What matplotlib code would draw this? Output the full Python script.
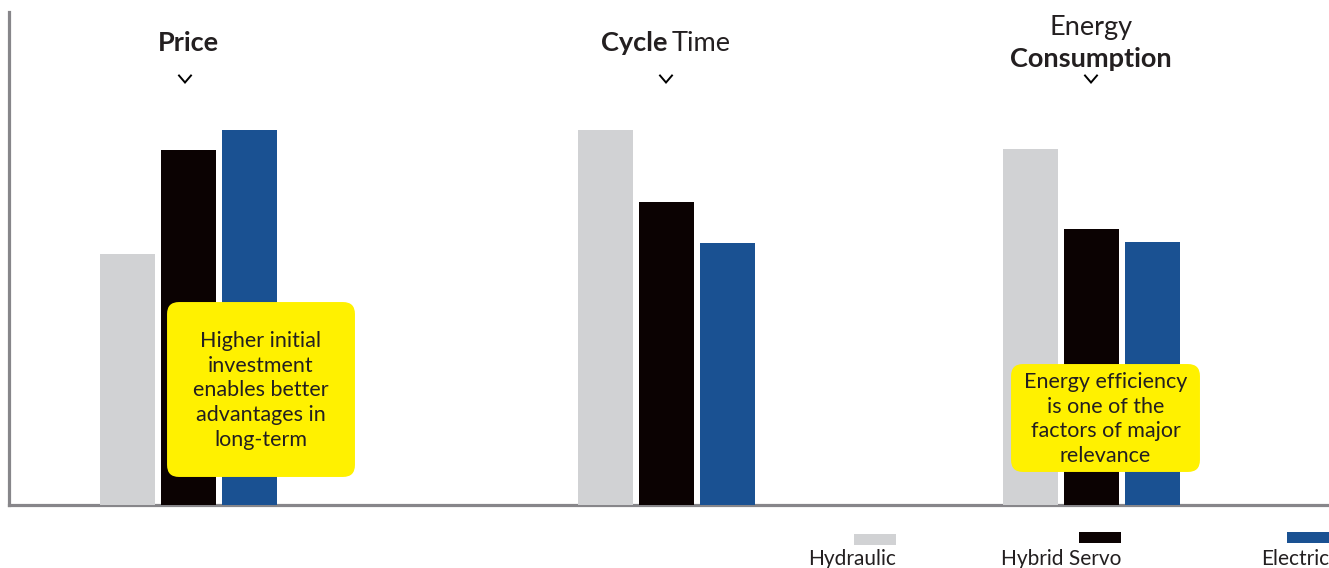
import matplotlib.pyplot as plt
from matplotlib.patches import FancyBboxPatch, Rectangle
from matplotlib.lines import Line2D

plt.rcParams['font.family'] = ['Lato', 'DejaVu Sans']

# data (relative score, tallest bar = 100)
categories = ['Price', 'Cycle Time', 'Energy Consumption']
series = ['Hydraulic', 'Hybrid Servo', 'Electric']
hydraulic = [67, 100, 95]
hybrid_servo = [94.7, 80.8, 73.6]
electric = [100, 69.9, 70.1]
notes = ['Higher initial\ninvestment\nenables better\nadvantages in\nlong-term',
         'Energy efficiency\nis one of the\nfactors of major\nrelevance']

colors = ['#D1D2D4', '#0B0202', '#1A5192']
text_col = '#231F20'
W, H = 1329, 568

fig = plt.figure(figsize=(W / 100, H / 100), dpi=100)
ax = fig.add_axes([9 / W, 63 / H, 1320 / W, 493 / H])


def fx(x):
    return x / W


def fy(y):
    return 1 - y / H


# bar layout (pixel-like x units)
group_x = [188.5, 666, 1091]
step, width = 61, 55
for i, vals in enumerate([hydraulic, hybrid_servo, electric]):
    xs = [g + (i - 1) * step for g in group_x]
    ax.bar(xs, vals, width=width, color=colors[i], zorder=1, clip_on=False)

ax.set_xlim(9, 1329)
ax.set_ylim(0, 131.5)
ax.set_xticks([])
ax.set_yticks([])
for s in ['top', 'right']:
    ax.spines[s].set_visible(False)
for s in ['left', 'bottom']:
    ax.spines[s].set_color('#87868A')
    ax.spines[s].set_linewidth(2.3)
    ax.spines[s].set_zorder(0)

# category headings
fs_head = 19.5
fig.text(fx(188), fy(51), 'Price', ha='center', va='baseline',
         fontsize=fs_head, fontweight='bold', color=text_col)
fig.text(fx(667), fy(51), 'Cycle', ha='right', va='baseline',
         fontsize=fs_head, fontweight='bold', color=text_col)
fig.text(fx(672), fy(51), 'Time', ha='left', va='baseline',
         fontsize=fs_head, color=text_col)
fig.text(fx(1091), fy(35), 'Energy', ha='center', va='baseline',
         fontsize=fs_head, color=text_col)
fig.text(fx(1091), fy(67), 'Consumption', ha='center', va='baseline',
         fontsize=fs_head, fontweight='bold', color=text_col)

# chevrons
for cx, cy in [(185, 79), (666, 79), (1091, 79)]:
    fig.add_artist(Line2D([fx(cx - 6), fx(cx), fx(cx + 6)],
                          [fy(cy - 3.5), fy(cy + 3.5), fy(cy - 3.5)],
                          color='black', lw=1.4, solid_joinstyle='miter'))

# yellow note boxes
boxes = [(167, 302, 188, 175), (1011, 364, 189, 108)]
for (bx, by, bw, bh), note in zip(boxes, notes):
    fig.add_artist(FancyBboxPatch((fx(bx + 12), fy(by + bh - 12)),
                                  fx(bw - 24), (bh - 24) / H,
                                  boxstyle='round,pad=0.009,rounding_size=0.009',
                                  mutation_aspect=W / H,
                                  facecolor='#FFF100', edgecolor='none',
                                  transform=fig.transFigure, zorder=3))
    fig.text(fx(bx + bw / 2), fy(by + bh / 2 + 1), note, ha='center', va='center',
             fontsize=15.5, color=text_col, linespacing=1.3, zorder=4)

# legend
legend_right = [896, 1121, 1329]
legend_top = [534, 532, 532]
for name, c, xr, yt in zip(series, colors, legend_right, legend_top):
    fig.add_artist(Rectangle((fx(xr - 42), fy(yt + 11)), fx(42), 11 / H,
                             transform=fig.transFigure, color=c, lw=0))
    fig.text(fx(xr), fy(565), name, ha='right', va='baseline',
             fontsize=15, color=text_col)

plt.savefig('out.png', dpi=100)
